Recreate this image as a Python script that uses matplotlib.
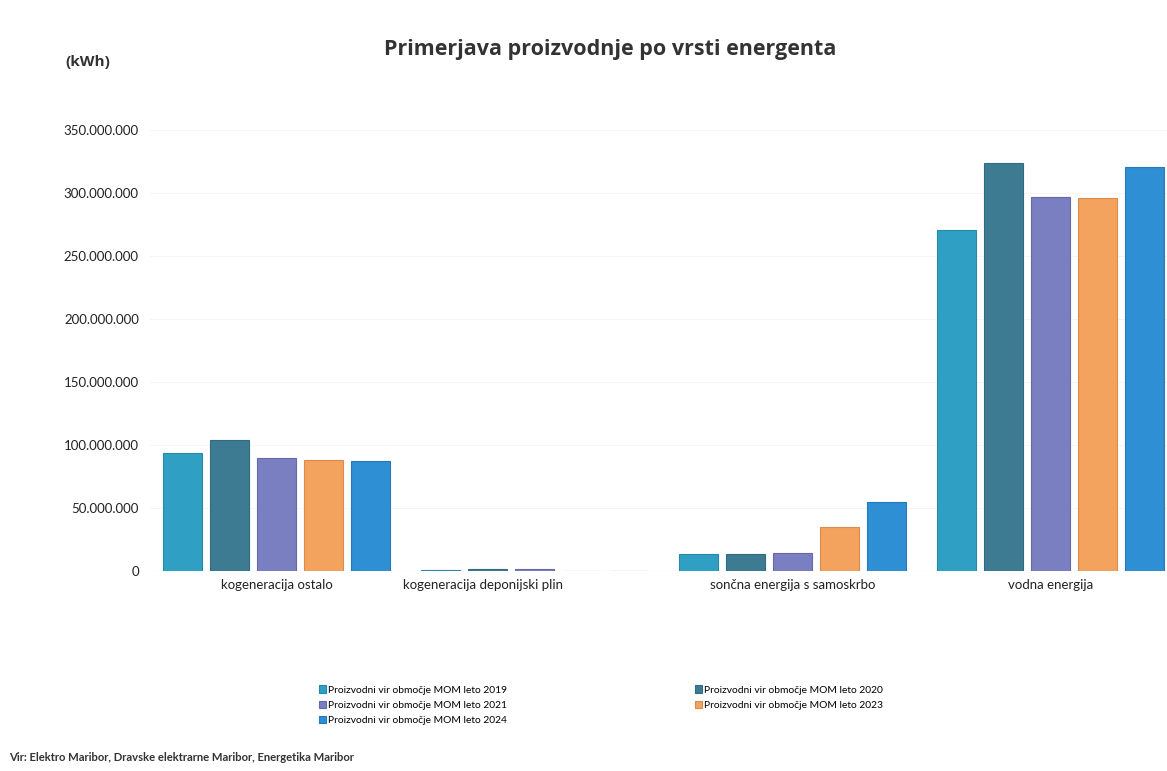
import numpy as np
import matplotlib
matplotlib.use("Agg")
import matplotlib.pyplot as plt
import matplotlib.transforms as mtransforms
from matplotlib.ticker import FuncFormatter

categories = ["kogeneracija ostalo", "kogeneracija deponijski plin",
              "sončna energija s samoskrbo", "vodna energija"]
years = ["2019", "2020", "2021", "2023", "2024"]

v2019 = [93_500_000, 600_000, 13_500_000, 271_000_000]
v2020 = [104_000_000, 1_500_000, 13_500_000, 324_000_000]
v2021 = [89_500_000, 1_500_000, 14_000_000, 297_000_000]
v2023 = [88_000_000, 0, 35_000_000, 296_000_000]
v2024 = [87_500_000, 0, 55_000_000, 321_000_000]
series = [v2019, v2020, v2021, v2023, v2024]

colors = ["#2fa0c4", "#3d7b93", "#7a7fc2", "#f4a35f", "#2f8fd4"]
edges = ["#2788a8", "#336a80", "#6569a8", "#d98c4c", "#2679b8"]

plt.rcParams['font.family'] = ['Lato', 'DejaVu Sans']

fig = plt.figure(figsize=(11.67, 7.71), dpi=100)
ax = fig.add_axes([0.1285, 0.2594, 0.8715, 0.572])

x = np.arange(len(categories))
step = 0.182
width = 0.151
for i, (vals, c, ec) in enumerate(zip(series, colors, edges)):
    ax.bar(x + (i - 2) * step, vals, width, color=c, edgecolor=ec, linewidth=0.8,
           label="Proizvodni vir območje MOM leto " + years[i], zorder=3)

ax.set_xlim(-0.49, 3.45)
ax.set_ylim(0, 350_000_000)
ax.set_yticks(np.arange(0, 350_000_001, 50_000_000))
ax.yaxis.set_major_formatter(FuncFormatter(lambda v, p: f"{int(v):,}".replace(",", ".")))
ax.set_xticks(x)
ax.set_xticklabels(categories)
ax.tick_params(axis='both', length=0, labelsize=9.5, colors="#222222")
ax.tick_params(axis='y', pad=8)
ax.tick_params(axis='x', pad=6)
for s in ax.spines.values():
    s.set_visible(False)
ax.axhline(0, color="#e6e6e6", linewidth=0.8, zorder=1)
ax.grid(axis='y', color="#f4f4f4", linewidth=0.6, zorder=0)

# the second category label sits left of its group in the original
lbl = ax.get_xticklabels()[1]
lbl.set_transform(lbl.get_transform() + mtransforms.ScaledTranslation(-0.52, 0, fig.dpi_scale_trans))

fig.text(0.523, 0.936, "Primerjava proizvodnje po vrsti energenta", ha='center', va='center',
         fontsize=15.5, fontweight='bold', family=['Open Sans', 'DejaVu Sans'], color="#333333")
fig.text(0.056, 0.919, "(kWh)", ha='left', va='center', fontsize=11, fontweight='bold',
         family=['Open Sans', 'DejaVu Sans'], color="#333333")
fig.text(0.008, 0.017, "Vir: Elektro Maribor, Dravske elektrarne Maribor, Energetika Maribor",
         ha='left', va='center', fontsize=8.1, fontweight='bold', color="#333333")

handles, labels = ax.get_legend_handles_labels()
order = [0, 2, 4, 1, 3]
leg = fig.legend([handles[k] for k in order], [labels[k] for k in order],
                 ncol=2, loc='upper left', bbox_to_anchor=(0.273, 0.111),
                 frameon=False, fontsize=7.4, handlelength=0.7, handleheight=0.7,
                 handletextpad=0.2, columnspacing=18.3, labelspacing=0.58,
                 borderaxespad=0, borderpad=0)

fig.savefig("out.png", dpi=100)
